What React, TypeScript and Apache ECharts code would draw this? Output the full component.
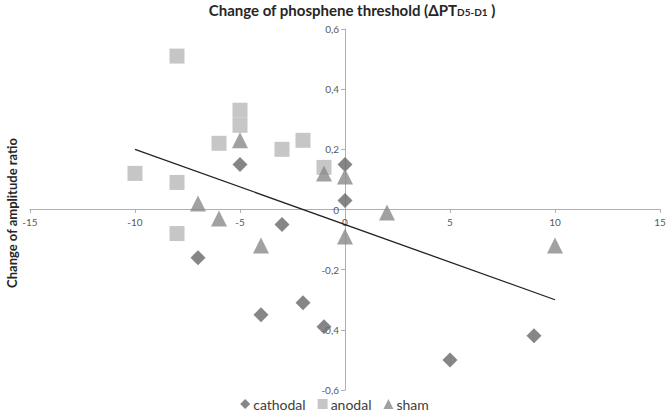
import React, { useEffect, useRef } from "react";
import * as echarts from "echarts";

const cathodalX = [-5, 0, 0, -3, -7, -4, -2, -1, 5, 9];
const cathodalY = [0.15, 0.15, 0.03, -0.05, -0.16, -0.35, -0.31, -0.39, -0.5, -0.42];

const anodalX = [-8, -10, -8, -6, -5, -5, -3, -2, -1, -8];
const anodalY = [0.51, 0.12, 0.09, 0.22, 0.33, 0.28, 0.2, 0.23, 0.14, -0.08];

const shamX = [-5, -7, -6, -4, -1, 0, 2, 0, 10];
const shamY = [0.23, 0.02, -0.03, -0.12, 0.12, 0.11, -0.01, -0.09, -0.12];

const trendX = [-10, 10];
const trendY = [0.2, -0.3];

const zip = (xs: number[], ys: number[]) => xs.map((x, i) => [x, ys[i]]);

const FONT = "Lato, 'Open Sans', sans-serif";

export default function App() {
  const ref = useRef<HTMLDivElement>(null);
  useEffect(() => {
    const chart = echarts.init(ref.current!, null, { renderer: "svg" });
    chart.setOption({
      animation: false,
      backgroundColor: "#ffffff",
      textStyle: { fontFamily: FONT },
      title: {
        text: "Change of phosphene threshold (ΔPT{sub|D5-D1} )",
        left: 347,
        textAlign: "center",
        top: 0,
        padding: [2, 5, 0, 5],
        textStyle: {
          fontFamily: FONT,
          fontSize: 15,
          fontWeight: "bold",
          color: "#262626",
          rich: {
            sub: {
              fontSize: 10,
              fontWeight: "bold",
              color: "#262626",
              verticalAlign: "bottom",
              padding: [4, 0, 0, 0],
              fontFamily: FONT,
            },
          },
        },
      },
      graphic: [
        {
          type: "text",
          x: 5,
          y: 213,
          rotation: Math.PI / 2,
          style: {
            text: "Change of amplitude ratio",
            fontFamily: FONT,
            fontSize: 13,
            fontWeight: "bold",
            fill: "#262626",
            align: "center",
            verticalAlign: "top",
          },
        },
      ],
      legend: {
        data: ["cathodal", "anodal", "sham"],
        bottom: 0,
        left: "center",
        itemWidth: 10,
        itemHeight: 10,
        itemGap: 12,
        textStyle: { fontFamily: FONT, fontSize: 14, color: "#404040", padding: [0, 0, 0, -2] },
      },
      grid: { left: 30, right: 9, top: 29, bottom: 26, containLabel: false },
      xAxis: {
        type: "value",
        min: -15,
        max: 15,
        interval: 5,
        offset: -181,
        splitLine: { show: false },
        axisLine: { onZero: false, lineStyle: { color: "#b0b0b0", width: 1 } },
        axisTick: { show: true, length: 4, lineStyle: { color: "#b0b0b0" } },
        axisLabel: { fontFamily: FONT, fontSize: 10, color: "#595959", margin: 8 },
      },
      yAxis: {
        type: "value",
        min: -0.6,
        max: 0.6,
        interval: 0.2,
        offset: -315,
        splitLine: { show: false },
        axisLine: { onZero: false, lineStyle: { color: "#b0b0b0", width: 1 } },
        axisTick: { show: true, length: 4, lineStyle: { color: "#b0b0b0" } },
        axisLabel: {
          fontFamily: FONT,
          fontSize: 10,
          color: "#595959",
          margin: 6,
          formatter: (v: number) => {
            const r = Math.round(v * 10) / 10;
            return r === 0 ? "0" : String(r).replace(".", ",");
          },
        },
      },
      series: [
        {
          name: "trend",
          type: "line",
          data: zip(trendX, trendY),
          symbol: "none",
          lineStyle: { color: "#222222", width: 1.3 },
          z: 1,
        },
        {
          name: "cathodal",
          type: "scatter",
          symbol: "diamond",
          symbolSize: 15,
          itemStyle: { color: "#686868" },
          data: zip(cathodalX, cathodalY),
          z: 3,
        },
        {
          name: "anodal",
          type: "scatter",
          symbol: "rect",
          symbolSize: 15,
          itemStyle: { color: "#b8b8b8" },
          data: zip(anodalX, anodalY),
          z: 2,
        },
        {
          name: "sham",
          type: "scatter",
          symbol: "triangle",
          symbolSize: 16,
          itemStyle: { color: "#8a8a8a" },
          data: zip(shamX, shamY),
          z: 4,
        },
      ],
    });
    return () => chart.dispose();
  }, []);
  return <div ref={ref} style={{ width: 669, height: 416, position: "absolute", left: 0, top: 0 }} />;
}
